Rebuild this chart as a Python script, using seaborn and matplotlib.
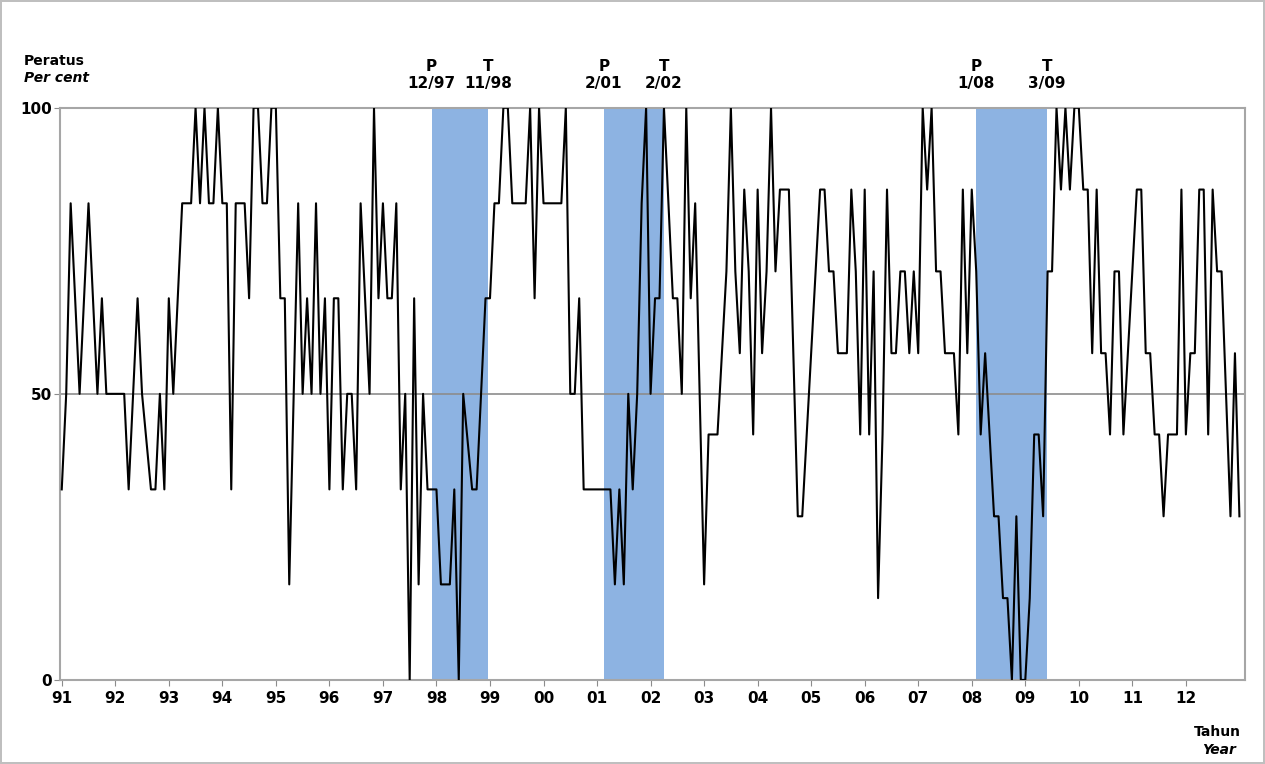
import numpy as np
import pandas as pd
import matplotlib
matplotlib.use("Agg")
import matplotlib.pyplot as plt
import seaborn as sns

# indeks bulanan, Jan 1991 = bulan 0
nilai = [
    33.3, 50, 83.3, 66.7, 50, 66.7, 83.3, 66.7, 50, 66.7, 50, 50,
    50, 50, 50, 33.3, 50, 66.7, 50, 41.7, 33.3, 33.3, 50, 33.3,
    66.7, 50, 66.7, 83.3, 83.3, 83.3, 100, 83.3, 100, 83.3, 83.3, 100,
    83.3, 83.3, 33.3, 83.3, 83.3, 83.3, 66.7, 100, 100, 83.3, 83.3, 100,
    100, 66.7, 66.7, 16.7, 50, 83.3, 50, 66.7, 50, 83.3, 50, 66.7,
    33.3, 66.7, 66.7, 33.3, 50, 50, 33.3, 83.3, 66.7, 50, 100, 66.7,
    83.3, 66.7, 66.7, 83.3, 33.3, 50, 0, 66.7, 16.7, 50, 33.3, 33.3,
    33.3, 16.7, 16.7, 16.7, 33.3, 0, 50, 41.7, 33.3, 33.3, 50, 66.7,
    66.7, 83.3, 83.3, 100, 100, 83.3, 83.3, 83.3, 83.3, 100, 66.7, 100,
    83.3, 83.3, 83.3, 83.3, 83.3, 100, 50, 50, 66.7, 33.3, 33.3, 33.3,
    33.3, 33.3, 33.3, 33.3, 16.7, 33.3, 16.7, 50, 33.3, 50, 83.3, 100,
    50, 66.7, 66.7, 100, 83.3, 66.7, 66.7, 50, 100, 66.7, 83.3, 50,
    16.7, 42.9, 42.9, 42.9, 57.1, 71.4, 100, 71.4, 57.1, 85.7, 71.4, 42.9,
    85.7, 57.1, 71.4, 100, 71.4, 85.7, 85.7, 85.7, 57.1, 28.6, 28.6, 42.9,
    57.1, 71.4, 85.7, 85.7, 71.4, 71.4, 57.1, 57.1, 57.1, 85.7, 71.4, 42.9,
    85.7, 42.9, 71.4, 14.3, 42.9, 85.7, 57.1, 57.1, 71.4, 71.4, 57.1, 71.4,
    57.1, 100, 85.7, 100, 71.4, 71.4, 57.1, 57.1, 57.1, 42.9, 85.7, 57.1,
    85.7, 71.4, 42.9, 57.1, 42.9, 28.6, 28.6, 14.3, 14.3, 0, 28.6, 0,
    0, 14.3, 42.9, 42.9, 28.6, 71.4, 71.4, 100, 85.7, 100, 85.7, 100,
    100, 85.7, 85.7, 57.1, 85.7, 57.1, 57.1, 42.9, 71.4, 71.4, 42.9, 57.1,
    71.4, 85.7, 85.7, 57.1, 57.1, 42.9, 42.9, 28.6, 42.9, 42.9, 42.9, 85.7,
    42.9, 57.1, 57.1, 85.7, 85.7, 42.9, 85.7, 71.4, 71.4, 50, 28.6, 57.1,
    28.6,
]
bulan = np.arange(len(nilai))

label_tahun = ["91", "92", "93", "94", "95", "96", "97", "98", "99", "00", "01",
               "02", "03", "04", "05", "06", "07", "08", "09", "10", "11", "12"]

# resesi: (awal, akhir) dalam bulan, label puncak dan palung
resesi = [(82.9, 95.5), (121.5, 135.0), (204.9, 220.8)]
puncak = ["12/97", "2/01", "1/08"]
palung = ["11/98", "2/02", "3/09"]

df = pd.DataFrame({"bulan": bulan, "nilai": nilai})

fig = plt.figure(figsize=(12.65, 7.64), dpi=100)
fig.patch.set_edgecolor("#bfbfbf")
fig.patch.set_linewidth(1.5)
ax = fig.add_axes([0.0474, 0.110, 0.9366, 0.749])

for (a, b), p, t in zip(resesi, puncak, palung):
    ax.axvspan(a, b, color="#8DB3E2", lw=0, zorder=1)
    ax.text(a, 103, "P\n" + p, ha="center", va="bottom", fontsize=11,
            fontweight="bold", linespacing=1.1)
    ax.text(b, 103, "T\n" + t, ha="center", va="bottom", fontsize=11,
            fontweight="bold", linespacing=1.1)

ax.axhline(50, color="#8c8c8c", lw=1.2, zorder=2)
sns.lineplot(data=df, x="bulan", y="nilai", color="black", lw=1.5, ax=ax, zorder=3)

ax.set_xlim(-0.4, 265.2)
ax.set_ylim(0, 100)
ax.set_xticks(np.arange(0, 12 * len(label_tahun), 12))
ax.set_xticklabels(label_tahun, fontsize=11, fontweight="bold")
ax.set_yticks([0, 50, 100])
ax.set_yticklabels(["0", "50", "100"], fontsize=11, fontweight="bold")
ax.tick_params(axis="x", direction="out", length=4, color="#8c8c8c", pad=4)
ax.tick_params(axis="y", direction="out", length=4, color="#8c8c8c", pad=2)
ax.set_xlabel("")
ax.set_ylabel("")
for s in ax.spines.values():
    s.set_color("#a6a6a6")
    s.set_linewidth(1.5)

fig.text(0.019, 0.915, "Peratus", fontsize=10, fontweight="bold", ha="left")
fig.text(0.019, 0.893, "Per cent", fontsize=10, fontweight="bold",
         style="italic", ha="left")
fig.text(0.981, 0.037, "Tahun", fontsize=10, fontweight="bold", ha="right")
fig.text(0.977, 0.013, "Year", fontsize=10, fontweight="bold",
         style="italic", ha="right")

fig.savefig("out.png", dpi=100, edgecolor=fig.get_edgecolor())
